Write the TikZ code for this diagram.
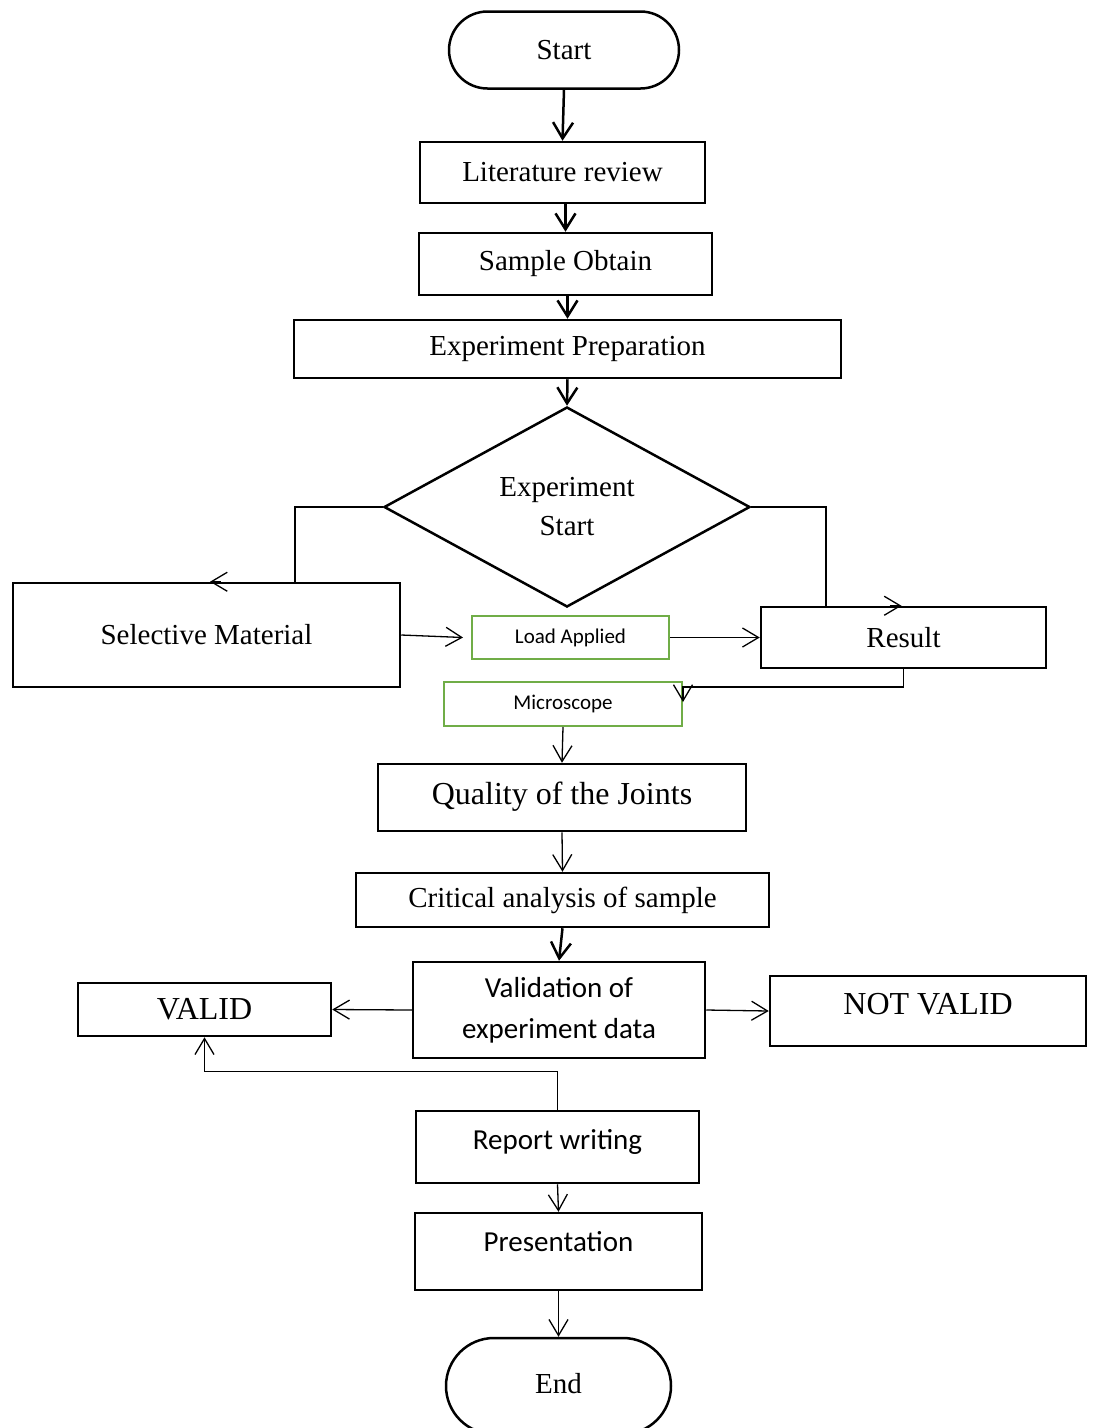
\documentclass[tikz,border=0pt]{standalone}
\usepackage{fontspec}
\setmainfont{Liberation Serif}
\newfontfamily\calfont{Carlito}
\usetikzlibrary{arrows.meta,shapes.geometric,shapes.misc}
\definecolor{grn}{HTML}{70AD47}
\tikzset{
  box/.style={draw, line width=2.5pt, inner sep=0pt, align=center,
    font=\fontsize{29}{35}\selectfont},
  bigbox/.style={box, font=\fontsize{32}{38}\selectfont},
  calbox/.style={box, font=\calfont\fontsize{29}{41}\selectfont},
  grnbox/.style={draw=grn, line width=2pt, inner sep=0pt,
    font=\calfont\fontsize{21}{25}\selectfont},
  term/.style={box, rounded rectangle},
  thk/.style={line width=2.5pt, -{Straight Barb[length=16pt,width=20pt]}},
  thn/.style={line width=1.3pt, -{Straight Barb[length=16pt,width=19pt]}},
  plain/.style={line width=1.3pt}
}
\begin{document}
\begin{tikzpicture}[x=1pt,y=-1pt]
\useasboundingbox (0,0) rectangle (1094,1428);

\node[term, minimum width=230pt, minimum height=77pt] (start) at (564,50) {Start};
\node[box, minimum width=285pt, minimum height=61pt] (lit) at (562.5,172.5) {Literature review};
\node[box, minimum width=293pt, minimum height=62pt] (samp) at (565.5,264) {Sample Obtain};
\node[box, minimum width=547pt, minimum height=58pt] (prep) at (567.5,349) {Experiment Preparation};
\node[draw, diamond, line width=2.5pt, inner sep=0pt, aspect=1.83,
      minimum width=366pt, minimum height=200pt, align=center,
      font=\fontsize{29}{39}\selectfont] (dia) at (567,507) {Experiment\\Start};
\node[box, minimum width=387pt, minimum height=104pt] (sel) at (206.5,635) {Selective Material};
\node[grnbox, minimum width=197pt, minimum height=43pt] (load) at (570.5,637.5) {Load Applied};
\node[box, minimum width=285pt, minimum height=61pt] (res) at (903.5,637.5) {Result};
\node[grnbox, minimum width=238pt, minimum height=44pt] (mic) at (563,704) {Microscope};
\node[bigbox, minimum width=368pt, minimum height=67pt] (qual) at (562,797.5) {\raisebox{9pt}{Quality of the Joints}};
\node[box, minimum width=413pt, minimum height=54pt] (crit) at (562.5,900) {Critical analysis of sample};
\node[calbox, minimum width=292pt, minimum height=96pt] (val) at (559,1010) {Validation of\\experiment data};
\node[bigbox, minimum width=253pt, minimum height=53pt] (valid) at (204.5,1009.5) {VALID};
\node[bigbox, minimum width=316pt, minimum height=70pt] (notv) at (928,1011) {\raisebox{15pt}{NOT VALID}};
\node[calbox, minimum width=283pt, minimum height=72pt] (rep) at (557.5,1147) {\raisebox{16pt}{Report writing}};
\node[calbox, minimum width=287pt, minimum height=77pt] (pres) at (558.5,1251.5) {\raisebox{21pt}{Presentation}};
\node[term, minimum width=225pt, minimum height=96pt] (end) at (558.5,1386) {\raisebox{5pt}{End}};

% thick connectors
\draw[thk] (start.south) -- (lit.north);
\draw[thk] (samp.north |- lit.south) -- (samp.north);
\draw[thk] (prep.north |- samp.south) -- (prep.north);
\draw[thk] (prep.south) -- (dia.north);
\draw[thk] (crit.south) -- (val.north);

% diamond branches
\draw[plain] (dia.west) -| ([xshift=88.5pt]sel.north);
\draw[thn] ([xshift=14pt]sel.north) -- ([xshift=3.5pt]sel.north);
\draw[plain] (dia.east) -| ([xshift=-77.5pt]res.north);
\draw[thn] ([xshift=-14pt]res.north) -- ([xshift=-2pt]res.north);

% middle
\draw[thn] (sel.east) -- ([xshift=-8pt]load.west);
\draw[thn] (load.east) -- (res.west);
\draw[thn] (res.south) |- ([yshift=17pt]mic.east) -- ([yshift=2pt]mic.east);
\draw[thn] (mic.south) -- (qual.north);
\draw[thn] (qual.south) -- (crit.north);

% validation
\draw[thn] (val.west) -- (valid.east);
\draw[thn] (val.east) -- (notv.west);
\draw[thn] (rep.north) -- ++(0,-38) -| (valid.south);
\draw[thn] (rep.south) -- (pres.north);
\draw[thn] (pres.south) -- (end.north);
\end{tikzpicture}
\end{document}
